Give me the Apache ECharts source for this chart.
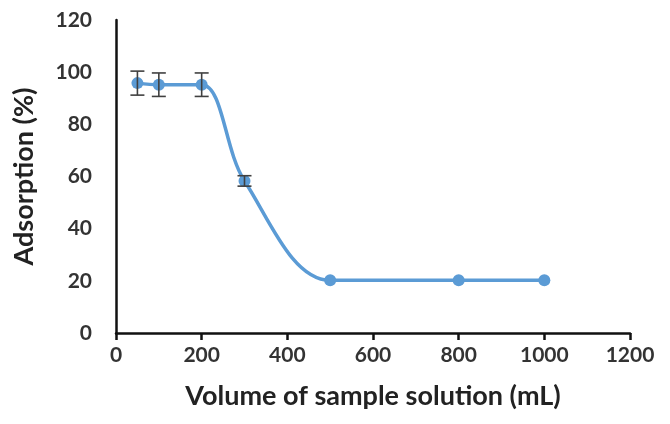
<!DOCTYPE html>
<html>
<head>
<meta charset="utf-8">
<script src="https://cdn.jsdelivr.net/npm/echarts@6/dist/echarts.min.js"></script>
<style>
  html, body { margin: 0; padding: 0; background: #fff; }
  #chart { width: 670px; height: 424px; }
</style>
</head>
<body>
<div id="chart"></div>
<script>
// volume of sample solution (mL) and adsorption (%)
const volumes = [50, 100, 200, 300, 500, 800, 1000]
const adsorption = [95.8, 95.2, 95.2, 58.3, 20.2, 20.2, 20.2]
const errors = [4.6, 4.5, 4.5, 2.0, 0, 0, 0]
const xTicks = [0, 200, 400, 600, 800, 1000, 1200]
const yTicks = [0, 20, 40, 60, 80, 100, 120]

const lineColor = '#5B9BD5'
const font = 'Lato, "Open Sans", sans-serif'

const chart = echarts.init(document.getElementById('chart'))

const errData = volumes.map((v, i) => [v, adsorption[i] - errors[i], adsorption[i] + errors[i]])
  .filter((d, i) => errors[i] > 0)

const option = {
  animation: false,
  grid: { left: 116, right: 40, top: 20, bottom: 91, containLabel: false, outerBoundsMode: 'none' },
  xAxis: {
    type: 'value',
    min: xTicks[0],
    max: xTicks[xTicks.length - 1],
    interval: 200,
    name: 'Volume of sample solution (mL)',
    nameLocation: 'middle',
    nameGap: 50,
    nameTextStyle: { fontFamily: font, fontWeight: 'bold', fontSize: 27, color: '#222' },
    axisLine: { lineStyle: { color: '#111', width: 2.5 } },
    axisTick: { show: true, length: 7, inside: false, lineStyle: { color: '#111', width: 2.5 } },
    axisLabel: {
      fontFamily: font, fontWeight: 'bold', fontSize: 21, color: '#333', margin: 12,
      formatter: v => String(v)
    },
    splitLine: { show: false }
  },
  yAxis: {
    type: 'value',
    min: yTicks[0],
    max: yTicks[yTicks.length - 1],
    interval: 20,
    name: 'Adsorption (%)',
    nameLocation: 'middle',
    nameGap: 78,
    nameRotate: 90,
    nameTextStyle: { fontFamily: font, fontWeight: 'bold', fontSize: 27, color: '#222' },
    axisLine: { show: true, lineStyle: { color: '#111', width: 2.5 } },
    axisTick: { show: false },
    axisLabel: {
      fontFamily: font, fontWeight: 'bold', fontSize: 21, color: '#333', margin: 24,
      formatter: v => String(v)
    },
    splitLine: { show: false }
  },
  series: [
    {
      type: 'line',
      data: volumes.map((v, i) => [v, adsorption[i]]),
      smooth: 0.35,
      symbol: 'circle',
      symbolSize: 12,
      itemStyle: { color: lineColor },
      lineStyle: { color: lineColor, width: 3.5 },
      z: 2
    },
    {
      // error bars
      type: 'custom',
      data: errData,
      z: 3,
      renderItem: (params, api) => {
        const x = api.value(0)
        const lo = api.coord([x, api.value(1)])
        const hi = api.coord([x, api.value(2)])
        const w = 7
        const style = { stroke: '#404040', lineWidth: 1.6 }
        return {
          type: 'group',
          children: [
            { type: 'line', shape: { x1: lo[0], y1: lo[1], x2: hi[0], y2: hi[1] }, style },
            { type: 'line', shape: { x1: lo[0] - w, y1: lo[1], x2: lo[0] + w, y2: lo[1] }, style },
            { type: 'line', shape: { x1: hi[0] - w, y1: hi[1], x2: hi[0] + w, y2: hi[1] }, style }
          ]
        }
      }
    }
  ]
}

chart.setOption(option)
</script>
</body>
</html>
